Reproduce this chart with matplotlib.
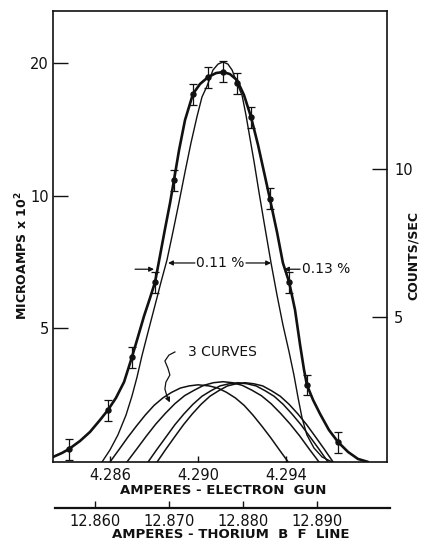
import matplotlib
matplotlib.use('Agg')  # no display
import matplotlib.pyplot as plt
from matplotlib.ticker import NullLocator

# measured points (electron gun amperes, microamps x 10^2)
point_x = [4.28414, 4.28591, 4.28700, 4.28805, 4.28891, 4.28977, 4.29045,
           4.29114, 4.29177, 4.29241, 4.29327, 4.29414, 4.29495, 4.29636]
point_y = [2.652, 3.251, 4.296, 6.362, 10.83, 17.00, 18.55, 19.13, 17.97,
           15.05, 9.84, 6.36, 3.714, 2.756]
point_err = [0.15, 0.18, 0.24, 0.35, 0.6, 0.94, 1.02, 1.05, 0.99, 0.83, 0.54,
             0.35, 0.2, 0.15]

# heavy curve drawn through the points
thick_x = [4.28341, 4.28382, 4.28414, 4.28464, 4.28509, 4.28555, 4.28591,
           4.28627, 4.28664, 4.28700, 4.28727, 4.28755, 4.28782, 4.28805,
           4.28827, 4.28850, 4.28873, 4.28891, 4.28914, 4.28941, 4.28977,
           4.29009, 4.29045, 4.29082, 4.29114, 4.29145, 4.29177, 4.29209,
           4.29241, 4.29273, 4.29300, 4.29327, 4.29359, 4.29386, 4.29414,
           4.29441, 4.29464, 4.29482, 4.29495, 4.29523, 4.29555, 4.29595,
           4.29636, 4.29682, 4.29727, 4.29773]
thick_y = [2.546, 2.600, 2.655, 2.769, 2.902, 3.091, 3.257, 3.467, 3.770,
           4.296, 4.771, 5.327, 5.851, 6.362, 7.284, 8.393, 9.618, 10.85,
           12.69, 14.84, 17.01, 17.92, 18.57, 18.98, 19.08, 18.88, 18.30,
           16.92, 15.08, 13.02, 11.31, 9.818, 8.262, 7.026, 6.362, 5.496,
           4.575, 4.014, 3.712, 3.431, 3.188, 2.933, 2.755, 2.614, 2.520,
           2.481]

# narrow (calculated) line shape
thin_x = [4.28564, 4.28600, 4.28636, 4.28673, 4.28700, 4.28723, 4.28745,
          4.28773, 4.28805, 4.28832, 4.28859, 4.28886, 4.28914, 4.28941,
          4.28968, 4.28995, 4.29018, 4.29041, 4.29068, 4.29091, 4.29114,
          4.29136, 4.29155, 4.29182, 4.29200, 4.29218, 4.29236, 4.29255,
          4.29277, 4.29300, 4.29332, 4.29359, 4.29386, 4.29414, 4.29436,
          4.29455, 4.29473, 4.29495, 4.29527, 4.29564, 4.29609]
thin_y = [2.481, 2.642, 2.857, 3.172, 3.503, 3.869, 4.319, 4.897, 5.640,
          6.362, 7.136, 8.262, 9.666, 11.31, 13.16, 15.08, 16.74, 17.73,
          19.28, 19.89, 20.11, 19.89, 19.28, 17.73, 16.92, 15.24, 13.51,
          11.92, 10.19, 8.705, 7.026, 5.942, 5.083, 4.410, 3.910, 3.467,
          3.122, 2.857, 2.669, 2.546, 2.481]

# the small component curves near the bottom
bell1_x = [4.2860, 4.2864, 4.2868, 4.2872, 4.2876, 4.2880, 4.2884, 4.2888,
           4.2892, 4.2896, 4.2900, 4.2905, 4.2909, 4.2913, 4.2917, 4.2921,
           4.2925, 4.2929, 4.2933, 4.2937, 4.2941]
bell2_x = [4.28677, 4.28721, 4.28765, 4.28808, 4.28852, 4.28895, 4.28939,
           4.28983, 4.29026, 4.29070, 4.29114, 4.29157, 4.29201, 4.29245,
           4.29288, 4.29332, 4.29375, 4.29419, 4.29463, 4.29506, 4.29550]
bell3_x = [4.28773, 4.28814, 4.28855, 4.28895, 4.28936, 4.28977, 4.29018,
           4.29059, 4.29100, 4.29141, 4.29182, 4.29223, 4.29264, 4.29305,
           4.29346, 4.29387, 4.29427, 4.29468, 4.29509, 4.29550, 4.29591]
bell4_x = [4.28814, 4.28854, 4.28894, 4.28934, 4.28974, 4.29014, 4.29054,
           4.29094, 4.29134, 4.29174, 4.29214, 4.29254, 4.29294, 4.29334,
           4.29374, 4.29414, 4.29454, 4.29494, 4.29534, 4.29574, 4.29614]
bell1_y = [2.48, 2.642, 2.818, 2.993, 3.169, 3.334, 3.467, 3.570, 3.652,
           3.693, 3.714, 3.693, 3.652, 3.570, 3.467, 3.334, 3.169, 2.993,
           2.818, 2.642, 2.48]
bell2_y = [2.48, 2.652, 2.839, 3.024, 3.200, 3.365, 3.509, 3.611, 3.704,
           3.755, 3.775, 3.755, 3.704, 3.611, 3.509, 3.365, 3.200, 3.024,
           2.839, 2.652, 2.48]
bell3_y = [2.48, 2.652, 2.829, 3.014, 3.189, 3.354, 3.498, 3.601, 3.693,
           3.734, 3.755, 3.734, 3.693, 3.601, 3.498, 3.354, 3.189, 3.014,
           2.829, 2.652, 2.48]
bell4_y = bell3_y

gun_ticks = [4.286, 4.290, 4.294]
gun_labels = ['4.286', '4.290', '4.294']
thorium_ticks = [12.860, 12.870, 12.880, 12.890]
thorium_labels = ['12.860', '12.870', '12.880', '12.890']
left_ticks = [5, 10, 20]
right_ticks = [5, 10]

INK = '#111111'
plt.rcParams['font.family'] = ['DejaVu Sans']

W, H = 421, 543
fig = plt.figure(figsize=(W / 100, H / 100), dpi=100)
fig.patch.set_facecolor('white')

# main frame: x 53..387, y 11..462 px
ax = fig.add_axes([53 / W, 1 - 462 / H, 334 / W, 451 / H])
ax.set_yscale('log')
ax.set_xlim(4.28341, 4.29859)
ax.set_ylim(2.48, 26.26)

ax.plot(thick_x, thick_y, color=INK, lw=1.9, solid_capstyle='round', solid_joinstyle='round')
ax.plot(thin_x, thin_y, color=INK, lw=1.0, solid_joinstyle='round')
for bx, by in [(bell1_x, bell1_y), (bell2_x, bell2_y), (bell3_x, bell3_y), (bell4_x, bell4_y)]:
    ax.plot(bx, by, color=INK, lw=1.1, solid_joinstyle='round')
ax.errorbar(point_x, point_y, yerr=point_err, fmt='o', color=INK, ms=3.6,
            elinewidth=0.9, capsize=2.6, capthick=0.9)

for s in ax.spines.values():
    s.set_linewidth(1.2)
    s.set_color(INK)

ax.set_xticks(gun_ticks)
ax.set_xticklabels(gun_labels)
ax.set_yticks(left_ticks)
ax.set_yticklabels([str(t) for t in left_ticks])
ax.yaxis.set_minor_locator(NullLocator())
ax.xaxis.set_minor_locator(NullLocator())
ax.tick_params(axis='x', direction='in', length=4, width=1, pad=4,
               labelsize=10.5, colors=INK)
ax.tick_params(axis='y', direction='in', length=11, width=1, pad=3,
               labelsize=10.5, colors=INK)

ax2 = ax.twinx()
ax2.set_yscale('log')
ax2.set_ylim(2.54, 20.96)
ax2.set_yticks(right_ticks)
ax2.set_yticklabels([str(t) for t in right_ticks])
ax2.yaxis.set_minor_locator(NullLocator())
ax2.tick_params(axis='y', direction='in', length=11, width=1, pad=5,
                labelsize=10.5, colors=INK)
for s in ax2.spines.values():
    s.set_visible(False)

arrow_kw = dict(arrowstyle='-|>', color=INK, lw=0.9, mutation_scale=7, shrinkA=0, shrinkB=0)

# width annotations
y_arr = 7.026
ax.annotate('', xy=(4.28864, y_arr), xytext=(4.28986, y_arr), arrowprops=arrow_kw)
ax.annotate('', xy=(4.29332, y_arr), xytext=(4.29218, y_arr), arrowprops=arrow_kw)
ax.text(4.29102, y_arr, '0.11 %', ha='center', va='center', fontsize=10, color=INK)
y_arr2 = 6.80
ax.annotate('', xy=(4.28800, y_arr2), xytext=(4.28714, y_arr2), arrowprops=arrow_kw)
ax.annotate('', xy=(4.29391, y_arr2), xytext=(4.29464, y_arr2), arrowprops=arrow_kw)
ax.text(4.29473, y_arr2, '0.13 %', ha='left', va='center', fontsize=10, color=INK)

# "3 CURVES" with a wavy pointer
ax.text(0.507, 0.243, '3 CURVES', transform=ax.transAxes, ha='center', va='center',
        fontsize=10, color=INK)
sq_x = [0.365, 0.347, 0.335, 0.344, 0.350, 0.338, 0.335, 0.341]
sq_y = [0.244, 0.237, 0.224, 0.208, 0.193, 0.177, 0.162, 0.146]
ax.plot(sq_x, sq_y, transform=ax.transAxes, color=INK, lw=0.9)
ax.annotate('', xy=(0.350, 0.132), xytext=(0.341, 0.146), xycoords='axes fraction',
            arrowprops=arrow_kw)

# axis titles
fig.text(22 / W, 1 - 256 / H, 'MICROAMPS x 10$^{\\mathbf{2}}$', rotation=90, ha='center',
         va='center', fontsize=9, fontweight='bold', color=INK)
fig.text(413 / W, 1 - 255 / H, 'COUNTS/SEC', rotation=90, ha='center', va='center',
         fontsize=9, fontweight='bold', color=INK)
fig.text(223 / W, 1 - 490 / H, 'AMPERES - ELECTRON  GUN', ha='center', va='center',
         fontsize=9.5, fontweight='bold', color=INK)
fig.text(231 / W, 1 - 535 / H, 'AMPERES - THORIUM  B  F  LINE', ha='center', va='center',
         fontsize=9.5, fontweight='bold', color=INK)

# second (thorium line) scale drawn as a bare axis
ax3 = fig.add_axes([55 / W, 1 - 508 / H, 335 / W, 0.0005])
ax3.set_xlim(12.8546, 12.8999)
ax3.set_xticks(thorium_ticks)
ax3.set_xticklabels(thorium_labels)
ax3.set_yticks([])
ax3.patch.set_alpha(0)
for side in ['top', 'left', 'right']:
    ax3.spines[side].set_visible(False)
ax3.spines['bottom'].set_linewidth(1.6)
ax3.spines['bottom'].set_color(INK)
ax3.tick_params(axis='x', direction='in', length=5, width=1, pad=4,
                labelsize=10.5, colors=INK)

fig.savefig('out.png', dpi=100, facecolor='white')
plt.close(fig)
